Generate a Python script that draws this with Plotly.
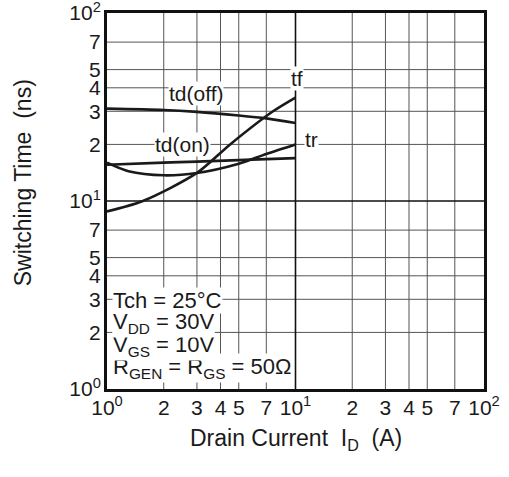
import math
import plotly.graph_objects as go

# Data
td_off_I = [1, 2, 3, 5, 7, 10]
td_off_t = [31, 30.5, 29.8, 28.5, 27.5, 26]

td_on_I = [1, 2, 3, 5, 7, 10]
td_on_t = [15.6, 16.0, 16.2, 16.5, 16.7, 16.9]

tr_I = [1, 1.3, 2, 3, 5, 7, 10]
tr_t = [16, 14.4, 13.7, 14.1, 15.8, 17.8, 20]

tf_I = [1, 1.55, 3, 4.5, 7.6, 10]
tf_t = [8.8, 10, 14.1, 20, 30, 35.5]

tick_vals = [1, 2, 3, 4, 5, 7, 10, 20, 30, 40, 50, 70, 100]
tick_text = ["10<sup>0</sup>", "2", "3", "4", "5", "7", "10<sup>1</sup>",
             "2", "3", "4", "5", "7", "10<sup>2</sup>"]

curve_labels = ["td(off)", "td(on)", "tf", "tr"]
curve_label_I = [2.97, 2.5, 10.2, 12.2]
curve_label_t = [37.5, 19.9, 45, 21.3]

cond_text = ["Tch = 25°C", "V<sub>DD</sub> = 30V", "V<sub>GS</sub> = 10V",
             "R<sub>GEN</sub> = R<sub>GS</sub> = 50Ω"]
cond_t = [2.97, 2.24, 1.70, 1.29]

FONT = "Liberation Sans, Arial, Helvetica, sans-serif"
INK = "#1a1a1a"
FS = 21

fig = go.Figure()
for xs, ys in [(td_off_I, td_off_t), (td_on_I, td_on_t), (tr_I, tr_t), (tf_I, tf_t)]:
    fig.add_trace(go.Scatter(x=xs, y=ys, mode="lines",
                             line=dict(color=INK, width=2.6, shape="spline", smoothing=0.8),
                             showlegend=False, hoverinfo="skip"))

grid_minor = [2, 3, 4, 5, 7, 20, 30, 40, 50, 70]
for v in grid_minor:
    fig.add_shape(type="line", xref="x", yref="paper", x0=v, x1=v, y0=0, y1=1,
                  line=dict(color="#555555", width=1), layer="below")
    fig.add_shape(type="line", xref="paper", yref="y", x0=0, x1=1, y0=v, y1=v,
                  line=dict(color="#555555", width=1), layer="below")
fig.add_shape(type="line", xref="x", yref="paper", x0=10, x1=10, y0=0, y1=1,
              line=dict(color="#111111", width=1.6), layer="below")
fig.add_shape(type="line", xref="paper", yref="y", x0=0, x1=1, y0=10, y1=10,
              line=dict(color="#111111", width=1.6), layer="below")

axis_common = dict(type="log", range=[0, 2], tickvals=tick_vals, ticktext=tick_text,
                   showgrid=False, showline=True, linecolor="#111111", linewidth=3,
                   mirror=True, ticks="", zeroline=False, automargin=False,
                   ticklabeloverflow="allow",
                   tickfont=dict(family=FONT, size=FS, color=INK))

fig.update_xaxes(**axis_common, ticklabelstandoff=-2)
fig.update_yaxes(**axis_common, ticklabelstandoff=-1)

# axis titles
fig.add_annotation(x=0.5, y=-0.134, xref="paper", yref="paper",
                   text="Drain Current  I<sub>D</sub>  (A)", showarrow=False,
                   xanchor="center", yanchor="middle",
                   font=dict(family=FONT, size=23, color=INK))
fig.add_annotation(x=-0.222, y=0.548, xref="paper", yref="paper",
                   text="Switching Time  (ns)", showarrow=False, textangle=-90,
                   xanchor="center", yanchor="middle",
                   font=dict(family=FONT, size=23, color=INK))

for x, y, t in zip(curve_label_I, curve_label_t, curve_labels):
    fig.add_annotation(x=math.log10(x), y=math.log10(y), xref="x", yref="y", text=t,
                       showarrow=False, xanchor="center", yanchor="middle",
                       bgcolor="white", borderpad=0,
                       font=dict(family=FONT, size=FS, color=INK))

# draw from bottom line upward so subscripts are not hidden by the next box
for t, y in reversed(list(zip(cond_text, cond_t))):
    fig.add_annotation(x=0, y=math.log10(y), xref="paper", yref="y", text=t,
                       showarrow=False, xanchor="left", yanchor="middle", xshift=5,
                       bgcolor="white", borderpad=0,
                       font=dict(family=FONT, size=22, color=INK))

fig.update_layout(width=509, height=477,
                  margin=dict(l=107, r=25, t=13, b=88),
                  plot_bgcolor="white", paper_bgcolor="white")

fig.write_html("out.html", config={"displayModeBar": False},
               post_script="document.body.style.margin='0';document.body.style.overflow='hidden';")
